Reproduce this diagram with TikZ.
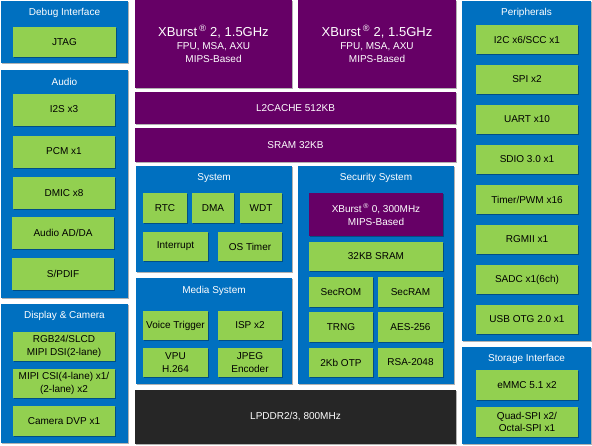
\documentclass[tikz,border=0pt]{standalone}
\usepackage{fontspec}
\setmainfont{Liberation Sans}
\usetikzlibrary{shadows}
\definecolor{socblue}{RGB}{0,112,192}
\definecolor{socgreen}{RGB}{146,208,80}
\definecolor{socpurple}{RGB}{102,0,102}
\definecolor{socddr}{RGB}{38,38,38}
\begin{document}
\begin{tikzpicture}[x=1pt,y=-1pt,
    soft/.style={drop shadow={shadow xshift=1.2pt,shadow yshift=-1.2pt,fill=black,opacity=.3}},
    grp/.style={soft,fill=socblue,inner sep=0pt,outer sep=0pt},
    blk/.style={soft,fill=socgreen,inner sep=0pt,outer sep=0pt,align=center,
        font=\fontsize{10}{12.5}\selectfont},
    cpu/.style={soft,fill=socpurple,text=white,inner sep=0pt,outer sep=0pt,align=center,
        font=\fontsize{10}{13}\selectfont},
    ttl/.style={text=white,font=\fontsize{10}{12}\selectfont},
    sz/.style 2 args={minimum width=#1,minimum height=#2}]
    \useasboundingbox (0,0) rectangle (592,445);

    % left column
    \node[grp,sz={127}{62}] (debug) at (64.5,32) {};
    \node[ttl] (debugT) at (64.5,13) {Debug Interface};
    \node[blk,sz={103}{30}] (jtag) at (64.5,42) {JTAG};

    \node[grp,sz={127}{228}] (audio) at (64.5,184) {};
    \node[ttl] (audioT) at (64.5,82) {Audio};
    \node[blk,sz={102}{32}] (i2s) at (64,109.5) {I2S x3};
    \node[blk,sz={102}{32}] (pcm) at (64,151.5) {PCM x1};
    \node[blk,sz={102}{32}] (dmic) at (64,193) {DMIC x8};
    \node[blk,sz={102}{32}] (adda) at (63,232.5) {Audio AD/DA};
    \node[blk,sz={102}{32}] (spdif) at (63,274) {S/PDIF};

    \node[grp,sz={127}{139}] (disp) at (64.5,373.5) {};
    \node[ttl] (dispT) at (64.5,316) {Display \& Camera};
    \node[blk,sz={102}{29}] (rgb) at (64,346.5) {RGB24/SLCD\\MIPI DSI(2-lane)};
    \node[blk,sz={102}{29}] (csi) at (64,383.5) {MIPI CSI(4-lane) x1/\\(2-lane) x2};
    \node[blk,sz={102}{30}] (dvp) at (64,421) {Camera DVP x1};

    % cores and memory
    \node[cpu,sz={157}{88}] (cpuA) at (213.5,44)
        {{\fontsize{13}{15}\selectfont XBurst\,\textsuperscript{\textregistered} 2, 1.5GHz}\\FPU, MSA, AXU\\MIPS-Based};
    \node[cpu,sz={158}{88}] (cpuB) at (377,44)
        {{\fontsize{13}{15}\selectfont XBurst\,\textsuperscript{\textregistered} 2, 1.5GHz}\\FPU, MSA, AXU\\MIPS-Based};
    \node[cpu,sz={321}{32}] (l2) at (295.5,108) {L2CACHE 512KB};
    \node[cpu,sz={321}{34}] (sram) at (295.5,145) {SRAM 32KB};

    % system
    \node[grp,sz={156}{106}] (sys) at (214,219) {};
    \node[ttl] (sysT) at (214,178) {System};
    \node[blk,sz={44}{30}] (rtc) at (165,208) {RTC};
    \node[blk,sz={42}{30}] (dma) at (213,208) {DMA};
    \node[blk,sz={42}{30}] (wdt) at (261,208) {WDT};
    \node[blk,sz={65}{29}] (irq) at (175.5,246.5) {Interrupt};
    \node[blk,sz={64}{29}] (ostmr) at (250,246.5) {OS Timer};

    % media
    \node[grp,sz={156}{106}] (media) at (214,331) {};
    \node[ttl] (mediaT) at (214,291) {Media System};
    \node[blk,sz={65}{29}] (voice) at (175.5,325.5) {Voice Trigger};
    \node[blk,sz={64}{29}] (isp) at (250,325.5) {ISP x2};
    \node[blk,sz={65}{29}] (vpu) at (175.5,362.5) {VPU\\H.264};
    \node[blk,sz={64}{29}] (jpeg) at (250,362.5) {JPEG\\Encoder};

    % security
    \node[grp,sz={156}{218}] (sec) at (376,275) {};
    \node[ttl] (secT) at (376,178) {Security System};
    \node[cpu,sz={134}{43}] (secCpu) at (376,214.5)
        {XBurst\,\textsuperscript{\textregistered} 0, 300MHz\\MIPS-Based};
    \node[blk,sz={134}{29}] (secSram) at (376,256.5) {32KB SRAM};
    \node[blk,sz={64}{30}] (secRom) at (341,292) {SecROM};
    \node[blk,sz={65}{30}] (secRam) at (410.5,292) {SecRAM};
    \node[blk,sz={64}{30}] (trng) at (341,327) {TRNG};
    \node[blk,sz={65}{30}] (aes) at (410.5,327) {AES-256};
    \node[blk,sz={64}{29}] (otp) at (341,362.5) {2Kb OTP};
    \node[blk,sz={65}{29}] (rsa) at (410.5,362.5) {RSA-2048};

    \node[cpu,fill=socddr,sz={321}{54}] (ddr) at (295.5,417) {LPDDR2/3, 800MHz};

    % right column
    \node[grp,sz={129}{340}] (per) at (526.5,171) {};
    \node[ttl] (perT) at (526.5,13) {Peripherals};
    \node[blk,sz={102}{29}] (i2c) at (527,39.5) {I2C x6/SCC x1};
    \node[blk,sz={102}{29}] (spi) at (527,79.5) {SPI x2};
    \node[blk,sz={102}{29}] (uart) at (527,119.5) {UART x10};
    \node[blk,sz={102}{29}] (sdio) at (527,159.5) {SDIO 3.0 x1};
    \node[blk,sz={102}{29}] (pwm) at (527,199.5) {Timer/PWM x16};
    \node[blk,sz={102}{29}] (rgmii) at (527,239.5) {RGMII x1};
    \node[blk,sz={102}{29}] (sadc) at (527,279.5) {SADC x1(6ch)};
    \node[blk,sz={102}{29}] (usb) at (527,319.5) {USB OTG 2.0 x1};

    \node[grp,sz={129}{97}] (stor) at (526.5,395.5) {};
    \node[ttl] (storT) at (526.5,359) {Storage Interface};
    \node[blk,sz={102}{30}] (emmc) at (527,385) {eMMC 5.1 x2};
    \node[blk,sz={102}{30}] (qspi) at (527,422) {Quad-SPI x2/\\Octal-SPI x1};
\end{tikzpicture}
\end{document}
